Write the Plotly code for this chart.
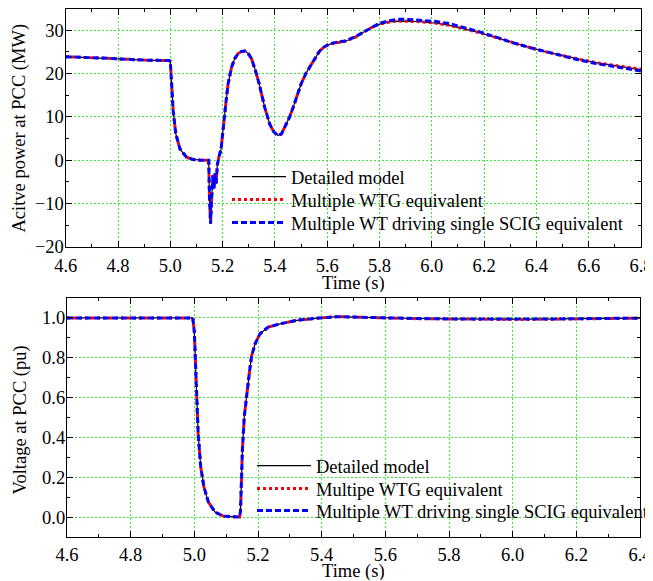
import plotly.graph_objects as go

# ---------------- Top panel: active power at PCC (MW) ----------------
t_p = [4.60, 4.70, 4.80, 4.90, 4.995, 5.000, 5.005, 5.011, 5.021, 5.037, 5.062, 5.087,
       5.120, 5.147, 5.150, 5.154, 5.158, 5.163, 5.167, 5.171, 5.175, 5.180, 5.186,
       5.194, 5.200, 5.206, 5.214, 5.221, 5.234, 5.247, 5.259, 5.272, 5.285, 5.298,
       5.310, 5.325, 5.340, 5.361, 5.380, 5.395, 5.412, 5.425, 5.438, 5.455, 5.470,
       5.485, 5.500, 5.520, 5.540, 5.555, 5.571, 5.590, 5.610, 5.648, 5.667, 5.705,
       5.737, 5.769, 5.800, 5.839, 5.870, 5.903, 5.935, 5.966, 6.017, 6.068, 6.119,
       6.183, 6.246, 6.310, 6.374, 6.437, 6.500, 6.565, 6.628, 6.692, 6.750, 6.800]

p_detailed = [23.9, 23.7, 23.4, 23.1, 23.0, 22.8, 17.6, 11.4, 6.1, 2.6, 0.7, 0.2,
              0.0, 0.0, -9.0, -14.6, -9.0, -3.5, -6.5, -3.0, -5.5, -1.0, 0.8,
              2.5, 6.0, 9.9, 14.0, 17.6, 21.4, 23.5, 24.6, 25.1, 25.2, 24.6,
              23.5, 20.8, 17.6, 12.2, 8.4, 6.6, 5.7, 6.1, 7.6, 9.8, 12.2,
              14.9, 17.6, 20.2, 22.2, 23.9, 25.2, 26.2, 26.8, 27.2, 27.4, 28.3,
              29.4, 30.6, 31.4, 31.9, 32.1, 32.1, 32.0, 31.9, 31.6, 31.1, 30.4,
              29.4, 28.3, 27.1, 26.0, 25.0, 24.1, 23.3, 22.5, 21.9, 21.4, 20.9]

p_multi_wtg = [23.9, 23.7, 23.4, 23.1, 23.0, 22.8, 17.6, 11.4, 6.1, 2.6, 0.7, 0.2,
               0.0, 0.0, -9.0, -14.6, -9.0, -3.5, -6.5, -3.0, -5.5, -1.0, 0.8,
               2.5, 6.0, 9.9, 14.0, 17.6, 21.4, 23.5, 24.6, 25.1, 25.2, 24.6,
               23.5, 20.8, 17.6, 12.2, 8.4, 6.6, 5.7, 6.1, 7.6, 9.8, 12.2,
               14.9, 17.6, 20.2, 22.2, 23.9, 25.2, 26.2, 26.8, 27.2, 27.4, 28.3,
               29.4, 30.6, 31.4, 31.9, 32.1, 32.1, 32.0, 31.9, 31.6, 31.1, 30.4,
               29.4, 28.3, 27.1, 26.0, 25.0, 24.1, 23.3, 22.5, 21.9, 21.4, 21.0]

p_multi_wt = [23.9, 23.7, 23.4, 23.1, 23.0, 22.8, 17.6, 11.4, 6.1, 2.6, 0.7, 0.2,
              0.0, 0.0, -9.0, -14.6, -9.0, -3.5, -6.5, -3.0, -5.5, -1.0, 0.8,
              2.5, 6.0, 9.9, 14.0, 17.6, 21.4, 23.5, 24.6, 25.1, 25.2, 24.6,
              23.5, 20.8, 17.6, 12.2, 8.4, 6.6, 5.7, 6.1, 7.6, 9.8, 12.2,
              14.9, 17.6, 20.2, 22.2, 23.9, 25.2, 26.2, 26.9, 27.3, 27.5, 28.4,
              29.5, 30.7, 31.6, 32.2, 32.5, 32.5, 32.4, 32.3, 32.0, 31.5, 30.7,
              29.6, 28.4, 27.1, 26.0, 25.0, 24.0, 23.1, 22.3, 21.6, 21.1, 20.6]

# ---------------- Bottom panel: voltage at PCC (pu) ----------------
t_v = [4.60, 4.80, 4.995, 5.000, 5.005, 5.012, 5.020, 5.030, 5.044, 5.065, 5.091,
       5.120, 5.142, 5.145, 5.147, 5.151, 5.157, 5.165, 5.173, 5.180, 5.191, 5.206,
       5.232, 5.269, 5.322, 5.395, 5.450, 5.500, 5.600, 5.700, 5.800, 5.900, 6.000,
       6.100, 6.200, 6.300, 6.400]

v_detailed = [1.000, 1.000, 1.000, 0.930, 0.676, 0.420, 0.253, 0.152, 0.076, 0.025, 0.005,
              0.000, 0.000, 0.030, 0.169, 0.338, 0.507, 0.625, 0.726, 0.810, 0.870, 0.920,
              0.954, 0.970, 0.988, 1.000, 1.006, 1.004, 0.999, 0.997, 0.995, 0.994, 0.993,
              0.994, 0.996, 0.998, 0.999]

v_multi_wtg = [1.000, 1.000, 1.000, 0.930, 0.676, 0.420, 0.253, 0.152, 0.076, 0.025, 0.005,
               0.000, 0.000, 0.030, 0.169, 0.338, 0.507, 0.625, 0.726, 0.810, 0.870, 0.920,
               0.954, 0.970, 0.988, 1.000, 1.007, 1.004, 0.999, 0.996, 0.995, 0.993, 0.992,
               0.993, 0.996, 0.998, 0.999]

v_multi_wt = [1.000, 1.000, 1.000, 0.930, 0.676, 0.420, 0.253, 0.152, 0.076, 0.025, 0.005,
              0.000, 0.000, 0.030, 0.169, 0.338, 0.507, 0.625, 0.726, 0.810, 0.870, 0.920,
              0.954, 0.970, 0.988, 1.000, 1.006, 1.004, 0.999, 0.997, 0.995, 0.994, 0.993,
              0.994, 0.996, 0.998, 0.999]

names_top = ["Detailed model", "Multiple WTG equivalent",
             "Multiple WT driving single SCIG equivalent"]
names_bot = ["Detailed model", "Multipe WTG equivalent",
             "Multiple WT driving single SCIG equivalent"]

FONT = "Liberation Serif"
FS = 18.5
W, H = 653, 581
OFF = 8  # page body margin of the generated html

styles = [dict(color="black", width=1.2),
          dict(color="#ff0000", width=3, dash="dot"),
          dict(color="#0000ff", width=3, dash="6px,3px")]

fig = go.Figure()
top_series = [p_detailed, p_multi_wtg, p_multi_wt]
bot_series = [v_detailed, v_multi_wtg, v_multi_wt]
for i in range(3):
    fig.add_trace(go.Scatter(x=t_p, y=top_series[i], mode="lines", name=names_top[i],
                             line=styles[i], xaxis="x", yaxis="y", showlegend=True,
                             legend="legend" if i == 0 else "legend%d" % (i + 1)))
for i in range(3):
    fig.add_trace(go.Scatter(x=t_v, y=bot_series[i], mode="lines", name=names_bot[i],
                             line=styles[i], xaxis="x2", yaxis="y2", showlegend=True,
                             legend="legend%d" % (i + 4)))

def px_x(p):
    return min(1.0, max(0.0, (p - OFF) / W))

def px_y(p):
    return min(1.0, max(0.0, 1 - (p - OFF) / H))

grid = dict(showgrid=True, gridcolor="#3ee63e", gridwidth=1, griddash="2px,2px")
axis_common = dict(showline=True, linecolor="black", linewidth=1.3, mirror="allticks",
                   ticks="inside", ticklen=6, tickwidth=1.2, tickcolor="black",
                   zeroline=False, automargin=False,
                   tickfont=dict(family=FONT, size=FS, color="black"),
                   **grid)
xminor = dict(dtick=0.1, ticks="inside", ticklen=3, tickcolor="black", showgrid=False)

fig.update_layout(
    width=W, height=H,
    margin=dict(l=0, r=0, t=0, b=0, autoexpand=False),
    showlegend=True,
    paper_bgcolor="white", plot_bgcolor="white",
    font=dict(family=FONT, size=FS, color="black"),
    xaxis=dict(domain=[px_x(65.7), px_x(641)], range=[4.6, 6.8], dtick=0.2, tick0=4.6,
               tickformat=".1f", anchor="y", ticklabelstandoff=2, minor=xminor,
               **axis_common),
    yaxis=dict(domain=[px_y(247), px_y(8.5)], range=[-20, 35], dtick=10, tick0=0,
               anchor="x", ticklabelstandoff=-3,
               minor=dict(dtick=5, ticks="inside", ticklen=3, tickcolor="black", showgrid=False),
               **axis_common),
    xaxis2=dict(domain=[px_x(67), px_x(640)], range=[4.6, 6.4], dtick=0.2, tick0=4.6,
                tickformat=".1f", anchor="y2", ticklabelstandoff=1, minor=xminor,
                **axis_common),
    yaxis2=dict(domain=[px_y(537), px_y(298)], range=[-0.1, 1.1], dtick=0.2, tick0=0,
                tickformat=".1f", anchor="x2", ticklabelstandoff=-3,
                minor=dict(dtick=0.1, ticks="inside", ticklen=3, tickcolor="black", showgrid=False),
                **axis_common),
)

legend_common = dict(bgcolor="rgba(0,0,0,0)", borderwidth=0, xanchor="left",
                     yanchor="middle", itemwidth=54, visible=True,
                     font=dict(family=FONT, size=FS, color="black"))
rows_top = [177, 200, 223]
rows_bot = [466, 489, 511]
leg = {}
for i, r in enumerate(rows_top):
    key = "legend" if i == 0 else "legend%d" % (i + 1)
    leg[key] = dict(x=px_x(227), y=px_y(r), **legend_common)
for i, r in enumerate(rows_bot):
    key = "legend%d" % (i + 4)
    leg[key] = dict(x=px_x(252), y=px_y(r), **legend_common)
fig.update_layout(**leg)

title_font = dict(family=FONT, size=FS, color="black")
fig.add_annotation(text="Time (s)", x=px_x(353), y=px_y(283), xref="paper", yref="paper",
                   showarrow=False, font=title_font, xanchor="center", yanchor="middle",
                   height=18, borderpad=0)
fig.add_annotation(text="Time (s)", x=px_x(353), y=px_y(571), xref="paper", yref="paper",
                   showarrow=False, font=title_font, xanchor="center", yanchor="middle",
                   height=18, borderpad=0)
fig.add_annotation(text="Acitve power at PCC (MW)", x=px_x(19.5), y=px_y(128), xref="paper",
                   yref="paper", showarrow=False, font=title_font, textangle=-90,
                   xanchor="center", yanchor="middle")
fig.add_annotation(text="Voltage at PCC (pu)", x=px_x(19.5), y=px_y(420), xref="paper",
                   yref="paper", showarrow=False, font=title_font, textangle=-90,
                   xanchor="center", yanchor="middle")

fig.write_html("out.html")
